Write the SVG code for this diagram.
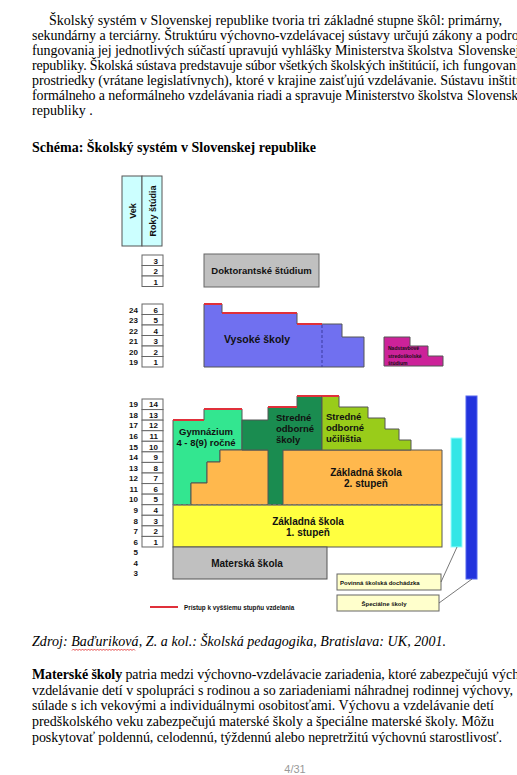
<svg xmlns="http://www.w3.org/2000/svg" width="517" height="775" viewBox="0 0 517 775">
<style>
.body{font-family:"Liberation Serif","Times New Roman",serif;font-size:14px;fill:#000}
.b{font-weight:bold}
.it{font-style:italic}
.lbl{font-family:"Liberation Sans",Arial,sans-serif;font-weight:bold;fill:#111}
.num{font-family:"Liberation Sans",Arial,sans-serif;font-weight:bold;font-size:8px;fill:#111}
.cell{fill:#fff;stroke:#666;stroke-width:1}
.shape{stroke:#555;stroke-width:1}
.red{stroke:#e0303a;stroke-width:2;fill:none}
</style>
<rect width="517" height="775" fill="#fff"/>

<g id="intro-text">
<text class="body" x="49" y="24.5" textLength="453" lengthAdjust="spacing">Školský systém v Slovenskej republike tvoria tri základné stupne škôl: primárny,</text>
<text class="body" x="32" y="39.5" textLength="450" lengthAdjust="spacing">sekundárny a terciárny. Štruktúru výchovno-vzdelávacej sústavy určujú zákony a</text>
<text class="body" x="486" y="39.5">podrobnosti</text>
<text class="body" x="32" y="54.5" textLength="421" lengthAdjust="spacing">fungovania jej jednotlivých súčastí upravujú vyhlášky Ministerstva školstva</text>
<text class="body" x="458" y="54.5">Slovenskej</text>
<text class="body" x="32" y="69.5" textLength="427" lengthAdjust="spacing">republiky. Školská sústava predstavuje súbor všetkých školských inštitúcií, ich</text>
<text class="body" x="463" y="69.5">fungovanie</text>
<text class="body" x="32" y="84.5" textLength="452" lengthAdjust="spacing">prostriedky (vrátane legislatívnych), ktoré v krajine zaisťujú vzdelávanie. Sústavu</text>
<text class="body" x="488" y="84.5">inštitúcií</text>
<text class="body" x="32" y="99.5" textLength="431" lengthAdjust="spacing">formálneho a neformálneho vzdelávania riadi a spravuje Ministerstvo školstva</text>
<text class="body" x="467" y="99.5">Slovenskej</text>
<text class="body" x="32" y="114.5">republiky .</text>
</g>

<g id="heading">
<text class="body b" x="32" y="152">Schéma: Školský systém v Slovenskej republike</text>
</g>

<g id="header-vek">
<rect x="122" y="176" width="20" height="70" fill="#ccffff" stroke="#555"/>
<rect x="142" y="176" width="20" height="70" fill="#ccffff" stroke="#555"/>
<text class="lbl" font-size="9" transform="translate(135.5,211) rotate(-90)" text-anchor="middle">Vek</text>
<text class="lbl" font-size="9" transform="translate(155.5,211) rotate(-90)" text-anchor="middle">Roky štúdia</text>
</g>

<g id="scale-doktorant">
<rect class="cell" x="142" y="255" width="21" height="10.5"/>
<rect class="cell" x="142" y="265.5" width="21" height="10.5"/>
<rect class="cell" x="142" y="276" width="21" height="10.5"/>
<text class="num" x="158" y="263.5" text-anchor="end">3</text>
<text class="num" x="158" y="274" text-anchor="end">2</text>
<text class="num" x="158" y="284.5" text-anchor="end">1</text>
</g>

<g id="doktorantske">
<rect x="204" y="254" width="115" height="33" fill="#c0c0c0" stroke="#666"/>
<text class="lbl" font-size="9.5" x="261.5" y="274" text-anchor="middle">Doktorantské štúdium</text>
</g>

<g id="scale-vysoke">
<rect class="cell" x="142" y="304" width="21" height="10.5"/>
<rect class="cell" x="142" y="314.5" width="21" height="10.5"/>
<rect class="cell" x="142" y="325" width="21" height="10.5"/>
<rect class="cell" x="142" y="335.5" width="21" height="10.5"/>
<rect class="cell" x="142" y="346" width="21" height="10.5"/>
<rect class="cell" x="142" y="356.5" width="21" height="10.5"/>
<text class="num" x="158" y="312.5" text-anchor="end">6</text>
<text class="num" x="158" y="323" text-anchor="end">5</text>
<text class="num" x="158" y="333.5" text-anchor="end">4</text>
<text class="num" x="158" y="344" text-anchor="end">3</text>
<text class="num" x="158" y="354.5" text-anchor="end">2</text>
<text class="num" x="158" y="365" text-anchor="end">1</text>
<text class="num" x="138" y="312.5" text-anchor="end">24</text>
<text class="num" x="138" y="323" text-anchor="end">23</text>
<text class="num" x="138" y="333.5" text-anchor="end">22</text>
<text class="num" x="138" y="344" text-anchor="end">21</text>
<text class="num" x="138" y="354.5" text-anchor="end">20</text>
<text class="num" x="138" y="365" text-anchor="end">19</text>
</g>

<g id="vysoke-skoly">
<polygon class="shape" fill="#7070f0" points="204,304 222,304 222,313 297,313 297,324 342,324 342,337 364,337 364,367 204,367"/>
<line x1="322" y1="325" x2="322" y2="367" stroke="#3a3aa0" stroke-width="1" stroke-dasharray="3,2"/>
<path class="red" d="M204,304H222M222,313H297M297,324H322"/>
<text class="lbl" font-size="10.5" x="257" y="343" text-anchor="middle">Vysoké školy</text>
</g>

<g id="nadstavbove">
<polygon class="shape" fill="#cc2299" points="384,337 410,337 410,346 428,346 428,356 443,356 443,366 384,366"/>
<text class="lbl" font-size="5" x="388" y="350" font-weight="normal">Nadstavbové</text>
<text class="lbl" font-size="5" x="388" y="357.5" font-weight="normal">stredoškolské</text>
<text class="lbl" font-size="5" x="388" y="365" font-weight="normal">štúdium</text>
</g>

<g id="scale-main">
<rect class="cell" x="142" y="399" width="21" height="10.57"/>
<rect class="cell" x="142" y="409.57" width="21" height="10.57"/>
<rect class="cell" x="142" y="420.14" width="21" height="10.57"/>
<rect class="cell" x="142" y="430.71" width="21" height="10.57"/>
<rect class="cell" x="142" y="441.28" width="21" height="10.57"/>
<rect class="cell" x="142" y="451.85" width="21" height="10.57"/>
<rect class="cell" x="142" y="462.42" width="21" height="10.57"/>
<rect class="cell" x="142" y="473" width="21" height="10.57"/>
<rect class="cell" x="142" y="483.57" width="21" height="10.57"/>
<rect class="cell" x="142" y="494.14" width="21" height="10.57"/>
<rect class="cell" x="142" y="504.71" width="21" height="10.57"/>
<rect class="cell" x="142" y="515.28" width="21" height="10.57"/>
<rect class="cell" x="142" y="525.85" width="21" height="10.57"/>
<rect class="cell" x="142" y="536.42" width="21" height="10.57"/>
<text class="num" x="158" y="407.3" text-anchor="end">14</text>
<text class="num" x="158" y="417.9" text-anchor="end">13</text>
<text class="num" x="158" y="428.4" text-anchor="end">12</text>
<text class="num" x="158" y="439" text-anchor="end">11</text>
<text class="num" x="158" y="449.6" text-anchor="end">10</text>
<text class="num" x="158" y="460.1" text-anchor="end">9</text>
<text class="num" x="158" y="470.7" text-anchor="end">8</text>
<text class="num" x="158" y="481.3" text-anchor="end">7</text>
<text class="num" x="158" y="491.9" text-anchor="end">6</text>
<text class="num" x="158" y="502.4" text-anchor="end">5</text>
<text class="num" x="158" y="513" text-anchor="end">4</text>
<text class="num" x="158" y="523.6" text-anchor="end">3</text>
<text class="num" x="158" y="534.1" text-anchor="end">2</text>
<text class="num" x="158" y="544.7" text-anchor="end">1</text>
<text class="num" x="138" y="407.3" text-anchor="end">19</text>
<text class="num" x="138" y="417.9" text-anchor="end">18</text>
<text class="num" x="138" y="428.4" text-anchor="end">17</text>
<text class="num" x="138" y="439" text-anchor="end">16</text>
<text class="num" x="138" y="449.6" text-anchor="end">15</text>
<text class="num" x="138" y="460.1" text-anchor="end">14</text>
<text class="num" x="138" y="470.7" text-anchor="end">13</text>
<text class="num" x="138" y="481.3" text-anchor="end">12</text>
<text class="num" x="138" y="491.9" text-anchor="end">11</text>
<text class="num" x="138" y="502.4" text-anchor="end">10</text>
<text class="num" x="138" y="513" text-anchor="end">9</text>
<text class="num" x="138" y="523.6" text-anchor="end">8</text>
<text class="num" x="138" y="534.1" text-anchor="end">7</text>
<text class="num" x="138" y="544.7" text-anchor="end">6</text>
<text class="num" x="138" y="555.3" text-anchor="end">5</text>
<text class="num" x="138" y="565.9" text-anchor="end">4</text>
<text class="num" x="138" y="576.4" text-anchor="end">3</text>
</g>

<g id="gymnazium">
<polygon class="shape" fill="#33e690" points="173,420 204,420 204,409 242,409 242,450 220,450 220,462 207,462 207,483 191,483 191,505 173,505"/>
<path class="red" d="M173,420H204M204,409H242"/>
<text class="lbl" font-size="9.5" x="206" y="435" text-anchor="middle">Gymnázium</text>
<text class="lbl" font-size="9.5" x="206" y="446" text-anchor="middle">4 - 8(9) ročné</text>
</g>

<g id="zakladna-2">
<polygon class="shape" fill="#ffb84d" points="220,450 442,450 442,505 191,505 191,483 207,483 207,462 220,462"/>
<text class="lbl" font-size="10" x="366" y="476" text-anchor="middle">Základná škola</text>
<text class="lbl" font-size="10" x="366" y="487" text-anchor="middle">2. stupeň</text>
</g>

<g id="stredne-odborne-skoly">
<polygon class="shape" fill="#1a8c50" points="242,420 268,420 268,407 297,407 297,396 322,396 322,450 283,450 283,505 268,505 268,450 242,450"/>
<path class="red" d="M268,407H297M297,396H322"/>
<text class="lbl" font-size="9.5" x="276" y="421">Stredné</text>
<text class="lbl" font-size="9.5" x="276" y="432">odborné</text>
<text class="lbl" font-size="9.5" x="276" y="443">školy</text>
</g>

<g id="stredne-odborne-ucilistia">
<polygon class="shape" fill="#99cc1a" points="322,396 339,396 339,407 368,407 368,418 385,418 385,429 399,429 399,440 411,440 411,450 322,450"/>
<path class="red" d="M322,396H339"/>
<text class="lbl" font-size="9.5" x="326" y="420">Stredné</text>
<text class="lbl" font-size="9.5" x="326" y="431">odborné</text>
<text class="lbl" font-size="9.5" x="326" y="442">učilištia</text>
</g>

<g id="zakladna-1">
<rect class="shape" x="173" y="505" width="269" height="42" fill="#ffff40"/>
<line x1="173" y1="505" x2="442" y2="505" stroke="#888" stroke-dasharray="3,2"/>
<text class="lbl" font-size="10" x="308" y="525" text-anchor="middle">Základná škola</text>
<text class="lbl" font-size="10" x="308" y="536" text-anchor="middle">1. stupeň</text>
</g>

<g id="materska">
<rect class="shape" x="173" y="547" width="154" height="32" fill="#c0c0c0"/>
<text class="lbl" font-size="10" x="247" y="566.5" text-anchor="middle">Materská škola</text>
</g>

<g id="povinna-bar">
<rect x="451" y="438" width="11" height="109" fill="#33e6e6" stroke="#9ff"/>
</g>
<g id="specialne-bar">
<rect x="466" y="396" width="11" height="183" fill="#2233dd" stroke="#5566ee"/>
</g>

<g id="povinna-label">
<rect x="337" y="574" width="104" height="16" fill="#ffffcc" stroke="#666"/>
<text class="lbl" font-size="6" x="340" y="584.5">Povinná školská dochádzka</text>
</g>
<g id="specialne-label">
<rect x="337" y="595" width="102" height="16" fill="#ffffcc" stroke="#666"/>
<text class="lbl" font-size="6" x="384" y="605.5" text-anchor="middle">Špeciálne školy</text>
</g>

<g id="connectors">
<line x1="457" y1="547" x2="441" y2="582" stroke="#555" stroke-width="0.8"/>
<line x1="472" y1="579" x2="439" y2="603" stroke="#555" stroke-width="0.8"/>
</g>

<g id="legend">
<line class="red" x1="150" y1="607" x2="178" y2="607"/>
<text class="lbl" font-size="6.3" x="184" y="609.5">Prístup k vyššiemu stupňu vzdelania</text>
</g>

<g id="source">
<text class="body it" x="32" y="646" textLength="414" lengthAdjust="spacing">Zdroj: Baďuriková, Z. a kol.: Školská pedagogika, Bratislava: UK, 2001.</text>
<path d="M72,650.5 l1.5,-1.5 l1.5,1.5 l1.5,-1.5 l1.5,1.5 l1.5,-1.5 l1.5,1.5 l1.5,-1.5 l1.5,1.5 l1.5,-1.5 l1.5,1.5 l1.5,-1.5 l1.5,1.5 l1.5,-1.5 l1.5,1.5 l1.5,-1.5 l1.5,1.5 l1.5,-1.5 l1.5,1.5 l1.5,-1.5 l1.5,1.5 l1.5,-1.5 l1.5,1.5 l1.5,-1.5 l1.5,1.5 l1.5,-1.5 l1.5,1.5 l1.5,-1.5 l1.5,1.5 l1.5,-1.5 l1.5,1.5 l1.5,-1.5 l1.5,1.5 l1.5,-1.5 l1.5,1.5 l1.5,-1.5 l1.5,1.5 l1.5,-1.5 l1.5,1.5 l1.5,-1.5 l1.5,1.5 l1.5,-1.5 l1.5,1.5" fill="none" stroke="#e02020" stroke-width="0.8"/>
</g>

<g id="materske-text">
<text class="body" x="32" y="679" textLength="456" lengthAdjust="spacing"><tspan class="b">Materské školy</tspan> patria medzi výchovno-vzdelávacie zariadenia, ktoré zabezpečujú</text>
<text class="body" x="492" y="679">výchovu</text>
<text class="body" x="32" y="695" textLength="481" lengthAdjust="spacing">vzdelávanie detí v spolupráci s rodinou a so zariadeniami náhradnej rodinnej výchovy,</text>
<text class="body" x="32" y="710" textLength="462" lengthAdjust="spacing">súlade s ich vekovými a individuálnymi osobitosťami. Výchovu a vzdelávanie detí</text>
<text class="body" x="32" y="726" textLength="462" lengthAdjust="spacing">predškolského veku zabezpečujú materské školy a špeciálne materské školy. Môžu</text>
<text class="body" x="32" y="742" textLength="470" lengthAdjust="spacing">poskytovať poldennú, celodennú, týždennú alebo nepretržitú výchovnú starostlivosť.</text>
</g>

<g id="page-number">
<text x="295" y="773" font-family="Liberation Sans,Arial,sans-serif" font-size="11" fill="#999" text-anchor="middle">4/31</text>
</g>
</svg>
